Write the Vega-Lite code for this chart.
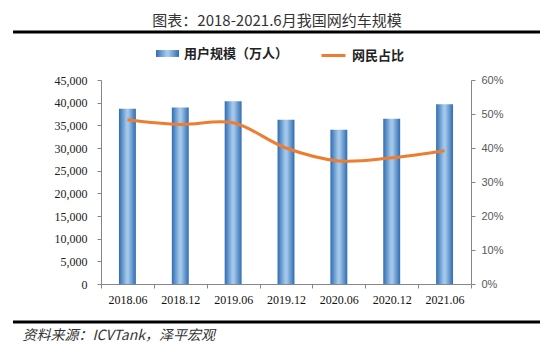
{
  "$schema": "https://vega.github.io/schema/vega-lite/v6.json",
  "width": 370,
  "height": 204,
  "autosize": {"type": "none"},
  "padding": {"left": 101, "top": 80, "right": 79, "bottom": 63},
  "background": "white",
  "config": {"view": {"stroke": null}},
  "title": {
    "text": "图表：2018-2021.6月我国网约车规模",
    "font": "Noto Sans CJK SC",
    "fontSize": 15,
    "fontWeight": "normal",
    "color": "#333333",
    "anchor": "middle",
    "frame": "group",
    "dx": -9,
    "offset": 2
  },
  "data": {
    "values": [
      {"period": "2018.06", "users": 38640, "share": 0.483},
      {"period": "2018.12", "users": 38930, "share": 0.469},
      {"period": "2019.06", "users": 40310, "share": 0.474},
      {"period": "2019.12", "users": 36230, "share": 0.400},
      {"period": "2020.06", "users": 34040, "share": 0.362},
      {"period": "2020.12", "users": 36450, "share": 0.371},
      {"period": "2021.06", "users": 39650, "share": 0.392}
    ]
  },
  "layer": [
    {
      "mark": {
        "type": "bar",
        "width": {"band": 0.32},
        "strokeWidth": 0,
        "color": {
          "gradient": "linear",
          "x1": 0, "x2": 1, "y1": 0, "y2": 0,
          "stops": [
            {"offset": 0, "color": "#2f6cb2"},
            {"offset": 0.45, "color": "#a2c7ea"},
            {"offset": 0.55, "color": "#a2c7ea"},
            {"offset": 1, "color": "#2f6cb2"}
          ]
        }
      },
      "encoding": {
        "x": {
          "field": "period",
          "type": "ordinal",
          "scale": {"paddingInner": 0, "paddingOuter": 0},
          "axis": {
            "title": "资料来源：ICVTank，泽平宏观",
            "titleFont": "Noto Sans CJK SC",
            "titleFontStyle": "italic",
            "titleFontWeight": "normal",
            "titleFontSize": 14,
            "titleColor": "#333333",
            "titleAnchor": "start",
            "titleAlign": "left",
            "titleX": -79,
            "titleY": 51,
            "titleBaseline": "middle",
            "labelAngle": 0,
            "labelFont": "Liberation Serif",
            "labelFontSize": 12,
            "labelColor": "#111111",
            "labelPadding": 6,
            "tickBand": "extent",
            "tickSize": 4,
            "tickColor": "#868686",
            "domainColor": "#868686"
          }
        },
        "y": {
          "field": "users",
          "type": "quantitative",
          "scale": {"domain": [0, 45000], "nice": false},
          "axis": {
            "title": null,
            "values": [0, 5000, 10000, 15000, 20000, 25000, 30000, 35000, 40000, 45000],
            "format": ",.0f",
            "grid": false,
            "labelFont": "Liberation Serif",
            "labelFontSize": 12,
            "labelColor": "#222222",
            "labelPadding": 10,
            "tickSize": 4,
            "tickColor": "#868686",
            "domainColor": "#868686"
          }
        },
        "stroke": {
          "datum": "用户规模（万人）",
          "type": "nominal",
          "scale": {"range": ["#3a72b5"]},
          "legend": {
            "orient": "none",
            "legendX": 55,
            "legendY": -38,
            "title": null,
            "padding": 0,
            "symbolType": "M-1,-0.3H1V0.3H-1Z",
            "symbolSize": 529,
            "symbolStrokeWidth": 0,
            "labelFont": "Noto Sans CJK SC",
            "labelFontSize": 13,
            "labelFontWeight": "bold",
            "labelColor": "#222222",
            "labelOffset": 5,
            "encode": {
              "symbols": {
                "update": {
                  "fill": {
                    "value": {
                      "gradient": "linear",
                      "x1": 0, "x2": 1, "y1": 0, "y2": 0,
                      "stops": [
                        {"offset": 0, "color": "#2f6cb2"},
                        {"offset": 1, "color": "#a2c7ea"}
                      ]
                    }
                  },
                  "strokeWidth": {"value": 0}
                }
              }
            }
          }
        }
      }
    },
    {
      "mark": {"type": "line", "interpolate": "catmull-rom", "strokeWidth": 3},
      "encoding": {
        "x": {"field": "period", "type": "ordinal"},
        "y": {
          "field": "share",
          "type": "quantitative",
          "scale": {"domain": [0, 0.6], "nice": false},
          "axis": {
            "orient": "right",
            "title": null,
            "values": [0, 0.1, 0.2, 0.3, 0.4, 0.5, 0.6],
            "format": ".0%",
            "grid": false,
            "labelFont": "Liberation Sans",
            "labelFontSize": 11,
            "labelColor": "#595959",
            "labelPadding": 6,
            "tickSize": 4,
            "tickColor": "#868686",
            "domainColor": "#868686"
          }
        },
        "stroke": {
          "datum": "网民占比",
          "type": "nominal",
          "scale": {"range": ["#ed7d31"]},
          "legend": {
            "orient": "none",
            "legendX": 219,
            "legendY": -38,
            "title": null,
            "padding": 0,
            "symbolType": "stroke",
            "symbolSize": 576,
            "symbolStrokeWidth": 3,
            "labelFont": "Noto Sans CJK SC",
            "labelFontSize": 13,
            "labelFontWeight": "bold",
            "labelColor": "#222222",
            "labelOffset": 5
          }
        }
      }
    },
    {
      "data": {"values": [{}]},
      "mark": {"type": "rule", "color": "#000000", "strokeWidth": 3},
      "encoding": {
        "x": {"value": -88},
        "x2": {"value": 439},
        "y": {"value": -48}
      }
    },
    {
      "data": {"values": [{}]},
      "mark": {"type": "rule", "color": "#000000", "strokeWidth": 3},
      "encoding": {
        "x": {"value": -88},
        "x2": {"value": 439},
        "y": {"value": 242}
      }
    }
  ],
  "resolve": {
    "scale": {"y": "independent", "stroke": "independent"},
    "legend": {"stroke": "independent"}
  }
}
